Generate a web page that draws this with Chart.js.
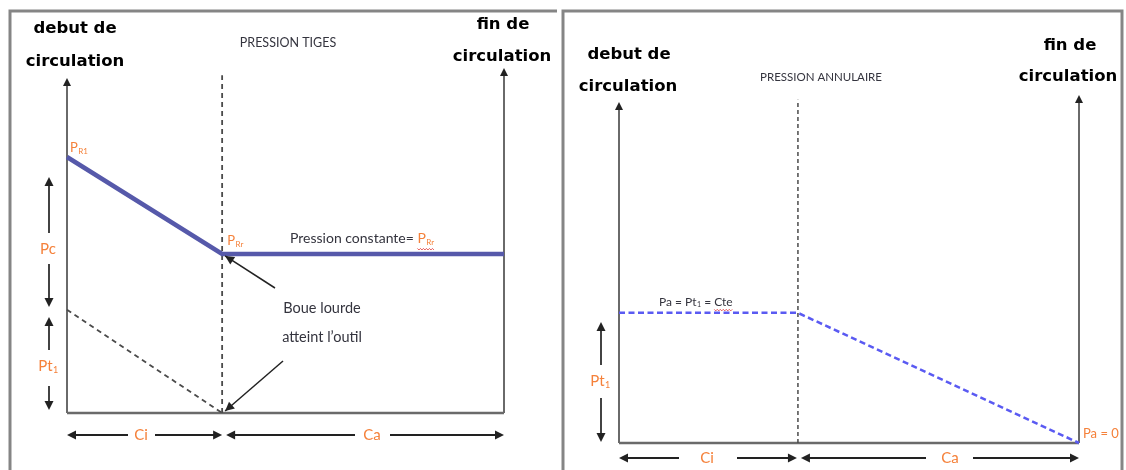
<!DOCTYPE html>
<html><head><meta charset="utf-8">
<script src="https://cdn.jsdelivr.net/npm/chart.js@4.4.1/dist/chart.umd.min.js"></script>
<style>
html,body{margin:0;padding:0;background:#fff;width:1126px;height:470px;overflow:hidden}
#wl{position:absolute;left:0;top:0;width:560px;height:470px}
#wr{position:absolute;left:560px;top:0;width:566px;height:470px}
canvas{display:block}
</style></head><body>
<div id="wl"><canvas id="cl" width="560" height="470"></canvas></div>
<div id="wr"><canvas id="cr" width="566" height="470"></canvas></div>
<script>
// ---------------- DATA ----------------
const stages = ["debut de circulation", "boue lourde atteint l'outil", "fin de circulation"];
// Pression tiges (x = volume pompé, % du total ; y = pression, unités relatives)
const tigesX = [0, 35.5, 100];
const tigesPression = [74.2, 46.1, 46.1];      // P_R1 -> P_Rr -> P_Rr
const tigesPt1X = [0, 35.5];
const tigesPt1 = [29.9, 0];                     // Pt1 -> 0
const tigesAxisTop = [97.1, 100];               // hauteur des axes (début, fin)
const tigesOutilTop = 97.9;
// Pression annulaire
const annulaireX = [0, 38.9, 100];
const annulairePression = [37.4, 37.4, 0];      // Pa = Pt1 = Cte -> Pa = 0
const annulaireAxisTop = [98, 100];
const annulaireOutilTop = 98.6;

// ---------------- HELPERS ----------------
const ORANGE = '#f5813a', AXIS = '#6a6a6a', FRAME = '#858585', INK = '#222', TXT = '#34343e';
const BOLD = 'bold 16.5px "DejaVu Sans"';
const SMALL = '"Lato", "Liberation Sans", sans-serif';

function seg(ctx, x1, y1, x2, y2, color, w, dash) {
  ctx.save(); ctx.strokeStyle = color; ctx.lineWidth = w; ctx.setLineDash(dash || []);
  ctx.beginPath(); ctx.moveTo(x1, y1); ctx.lineTo(x2, y2); ctx.stroke(); ctx.restore();
}
function head(ctx, x1, y1, x2, y2, size, color) {
  const a = Math.atan2(y2 - y1, x2 - x1), s = size || 7;
  ctx.save(); ctx.fillStyle = color || INK; ctx.beginPath();
  ctx.moveTo(x2, y2);
  ctx.lineTo(x2 - s * Math.cos(a) + s * 0.5 * Math.sin(a), y2 - s * Math.sin(a) - s * 0.5 * Math.cos(a));
  ctx.lineTo(x2 - s * Math.cos(a) - s * 0.5 * Math.sin(a), y2 - s * Math.sin(a) + s * 0.5 * Math.cos(a));
  ctx.closePath(); ctx.fill(); ctx.restore();
}
function arrow(ctx, x1, y1, x2, y2, color, w, s) {
  seg(ctx, x1, y1, x2, y2, color || INK, w || 1.4); head(ctx, x1, y1, x2, y2, s || 7, color || INK);
}
function txt(ctx, s, x, y, font, color, align) {
  ctx.save(); ctx.font = font; ctx.fillStyle = color; ctx.textAlign = align || 'center';
  ctx.textBaseline = 'middle'; ctx.fillText(s, x, y); ctx.restore();
}
// draws "main" + subscript, returns end x
function subTxt(ctx, main, sub, x, y, size, color, align) {
  ctx.save(); ctx.textBaseline = 'middle';
  ctx.font = size + 'px ' + SMALL; const w1 = ctx.measureText(main).width;
  ctx.font = Math.round(size * 0.6) + 'px ' + SMALL; const w2 = ctx.measureText(sub).width;
  let sx = x;
  if (align === 'center') sx = x - (w1 + w2) / 2;
  ctx.fillStyle = color; ctx.textAlign = 'left';
  ctx.font = size + 'px ' + SMALL; ctx.fillText(main, sx, y);
  ctx.font = Math.round(size * 0.6) + 'px ' + SMALL; ctx.fillText(sub, sx + w1 + 0.5, y + size * 0.25);
  ctx.restore();
  return sx + w1 + w2 + 0.5;
}
// vertical double arrow with a gap for a label
function vDim(ctx, x, yt, yb, g1, g2) {
  seg(ctx, x, yt + 5, x, g1, INK, 1.7); head(ctx, x, yt + 10, x, yt, 9);
  seg(ctx, x, g2, x, yb - 5, INK, 1.7); head(ctx, x, yb - 10, x, yb, 9);
}
function hDim(ctx, y, xl, xr, g1, g2) {
  seg(ctx, xl + 5, y, g1, y, INK, 1.8); head(ctx, xl + 10, y, xl, y, 9);
  seg(ctx, g2, y, xr - 5, y, INK, 1.8); head(ctx, xr - 10, y, xr, y, 9);
}
function squiggle(ctx, x1, x2, y) {
  ctx.save(); ctx.strokeStyle = '#e03030'; ctx.lineWidth = 0.8; ctx.beginPath();
  for (let x = x1, k = 0; x <= x2; x += 1.5, k++) { const yy = y + (k % 2 ? 1 : -0.5); k ? ctx.lineTo(x, yy) : ctx.moveTo(x, yy); }
  ctx.stroke(); ctx.restore();
}
function pts(xs, ys) { return xs.map((x, i) => ({ x: x, y: ys[i] })); }

function makeChart(id, padding, datasets, before, after) {
  return new Chart(document.getElementById(id), {
    type: 'scatter',
    data: { datasets: datasets },
    options: {
      responsive: false, animation: false, events: [],
      layout: { padding: padding },
      plugins: { legend: { display: false }, tooltip: { enabled: false }, title: { display: false } },
      scales: {
        x: { type: 'linear', min: 0, max: 100, display: false },
        y: { type: 'linear', min: 0, max: 100, display: false }
      }
    },
    plugins: [{
      id: 'deco',
      beforeDatasetsDraw(c) { before(c.ctx, v => c.scales.x.getPixelForValue(v), v => c.scales.y.getPixelForValue(v)); },
      afterDatasetsDraw(c) { after(c.ctx, v => c.scales.x.getPixelForValue(v), v => c.scales.y.getPixelForValue(v)); }
    }]
  });
}
const lineDs = (data, color, w, dash) => ({
  data: data, showLine: true, borderColor: color, borderWidth: w, borderDash: dash || [],
  pointRadius: 0, tension: 0, clip: false, fill: false
});

// ---------------- PRESSION TIGES ----------------
makeChart('cl', { left: 67, right: 56, top: 68, bottom: 57 }, [
  lineDs(pts(tigesX, tigesPression), '#5659aa', 4.5),
  lineDs(pts(tigesPt1X, tigesPt1), '#4a4a4a', 1.8, [5, 4]),
  lineDs([{ x: tigesX[1], y: 0 }, { x: tigesX[1], y: tigesOutilTop }], '#4a4a4a', 1.8, [5, 4])
], (ctx, X, Y) => {
  const x0 = X(tigesX[0]), x1 = X(tigesX[1]), x2 = X(tigesX[2]), y0 = Y(0);
  seg(ctx, x0, y0, x2, y0, AXIS, 2.6);
  seg(ctx, x0, y0, x0, Y(tigesAxisTop[0]) + 4, AXIS, 2); head(ctx, x0, Y(tigesAxisTop[0]) + 10, x0, Y(tigesAxisTop[0]), 8);
  seg(ctx, x2, y0, x2, Y(tigesAxisTop[1]) + 4, AXIS, 2); head(ctx, x2, Y(tigesAxisTop[1]) + 10, x2, Y(tigesAxisTop[1]), 8);
}, (ctx, X, Y) => {
  const x0 = X(tigesX[0]), x1 = X(tigesX[1]), x2 = X(tigesX[2]);
  // frame
  ctx.save(); ctx.strokeStyle = FRAME; ctx.lineWidth = 3; ctx.beginPath();
  ctx.moveTo(10, 470); ctx.lineTo(10, 11); ctx.lineTo(557, 11); ctx.stroke(); ctx.restore();
  // headings
  txt(ctx, 'debut de', 75, 29, BOLD, '#000');
  txt(ctx, 'circulation', 75, 62, BOLD, '#000');
  txt(ctx, 'fin de', 503, 25, BOLD, '#000');
  txt(ctx, 'circulation', 502, 57, BOLD, '#000');
  txt(ctx, 'PRESSION TIGES', 288, 43, '12.5px ' + SMALL, TXT);
  // labels
  subTxt(ctx, 'P', 'R1', 70, Y(tigesPression[0]) - 9, 13, ORANGE, 'left');
  subTxt(ctx, 'P', 'Rr', x1 + 5, Y(tigesPression[1]) - 13, 13, ORANGE, 'left');
  ctx.save(); ctx.font = '14px ' + SMALL; const w = ctx.measureText('Pression constante= ').width; ctx.restore();
  txt(ctx, 'Pression constante= ', 290, Y(tigesPression[2]) - 15, '14px ' + SMALL, TXT, 'left');
  const e = subTxt(ctx, 'P', 'Rr', 290 + w, Y(tigesPression[2]) - 15, 14, ORANGE, 'left');
  squiggle(ctx, 290 + w, e, Y(tigesPression[2]) - 5);
  txt(ctx, 'Boue lourde', 322, 308, '14.5px ' + SMALL, TXT);
  txt(ctx, 'atteint l\u2019outil', 322, 337, '14.5px ' + SMALL, TXT);
  arrow(ctx, 275, 288, x1 + 3, Y(tigesPression[1]) + 2, INK, 1.5, 9);
  arrow(ctx, 283, 361, x1 + 3, Y(0) - 2, INK, 1.5, 9);
  // dimensions
  vDim(ctx, 49, 177, 307, 233, 264);
  txt(ctx, 'Pc', 48, 249, '15px ' + SMALL, ORANGE);
  vDim(ctx, 49, 317, 410, 350, 386);
  subTxt(ctx, 'Pt', '1', 48, 366, 15, ORANGE, 'center');
  hDim(ctx, 435, x0, x1, 128, 155);
  txt(ctx, 'Ci', 141, 435, '15px ' + SMALL, ORANGE);
  hDim(ctx, 435, x1 + 4, x2, 355, 390);
  txt(ctx, 'Ca', 372, 435, '15px ' + SMALL, ORANGE);
});

// ---------------- PRESSION ANNULAIRE ----------------
const OFF = 560;
makeChart('cr', { left: 59, right: 47, top: 95, bottom: 27 }, [
  lineDs(pts(annulaireX, annulairePression), '#5a5af2', 2.5, [6, 3.5]),
  lineDs([{ x: annulaireX[1], y: 0 }, { x: annulaireX[1], y: annulaireOutilTop }], '#4a4a4a', 1.5, [4, 3])
], (ctx, X, Y) => {
  const x0 = X(annulaireX[0]), x2 = X(annulaireX[2]), y0 = Y(0);
  seg(ctx, x0, y0, x2, y0, AXIS, 2.6);
  seg(ctx, x0, y0, x0, Y(annulaireAxisTop[0]) + 4, AXIS, 2); head(ctx, x0, Y(annulaireAxisTop[0]) + 10, x0, Y(annulaireAxisTop[0]), 8);
  seg(ctx, x2, y0, x2, Y(annulaireAxisTop[1]) + 4, AXIS, 2); head(ctx, x2, Y(annulaireAxisTop[1]) + 10, x2, Y(annulaireAxisTop[1]), 8);
}, (ctx, X, Y) => {
  const x0 = X(annulaireX[0]), x1 = X(annulaireX[1]), x2 = X(annulaireX[2]);
  ctx.save(); ctx.strokeStyle = FRAME; ctx.lineWidth = 3; ctx.beginPath();
  ctx.moveTo(3, 470); ctx.lineTo(3, 11); ctx.lineTo(562, 11); ctx.lineTo(562, 470); ctx.stroke(); ctx.restore();
  txt(ctx, 'debut de', 629 - OFF, 55, BOLD, '#000');
  txt(ctx, 'circulation', 628 - OFF, 87, BOLD, '#000');
  txt(ctx, 'fin de', 1070 - OFF, 46, BOLD, '#000');
  txt(ctx, 'circulation', 1068 - OFF, 77, BOLD, '#000');
  txt(ctx, 'PRESSION ANNULAIRE', 821 - OFF, 77, '11.5px ' + SMALL, TXT);
  // Pa = Pt1 = Cte
  const yl = Y(annulairePression[0]) - 11;
  ctx.save(); ctx.font = '12px ' + SMALL; const wa = ctx.measureText('Pa = ').width; ctx.restore();
  txt(ctx, 'Pa = ', 659 - OFF, yl, '12px ' + SMALL, TXT, 'left');
  let e = subTxt(ctx, 'Pt', '1', 659 - OFF + wa, yl, 12, TXT, 'left');
  ctx.save(); ctx.font = '12px ' + SMALL; const wb = ctx.measureText(' = ').width; const wc = ctx.measureText('Cte').width; ctx.restore();
  txt(ctx, ' = Cte', e, yl, '12px ' + SMALL, TXT, 'left');
  squiggle(ctx, e + wb, e + wb + wc, yl + 8);
  txt(ctx, 'Pa = 0', 1083 - OFF, Y(annulairePression[2]) - 9, '13px ' + SMALL, ORANGE, 'left');
  // dimensions
  vDim(ctx, 601 - OFF, 322, 442, 365, 398);
  subTxt(ctx, 'Pt', '1', 600 - OFF, 381, 15, ORANGE, 'center');
  hDim(ctx, 458, x0, x1 - 1, 679 - OFF, 737 - OFF);
  txt(ctx, 'Ci', 707 - OFF, 458, '15px ' + SMALL, ORANGE);
  hDim(ctx, 458, x1 + 3, x2, 926 - OFF, 973 - OFF);
  txt(ctx, 'Ca', 950 - OFF, 458, '15px ' + SMALL, ORANGE);
});
</script>
</body></html>
